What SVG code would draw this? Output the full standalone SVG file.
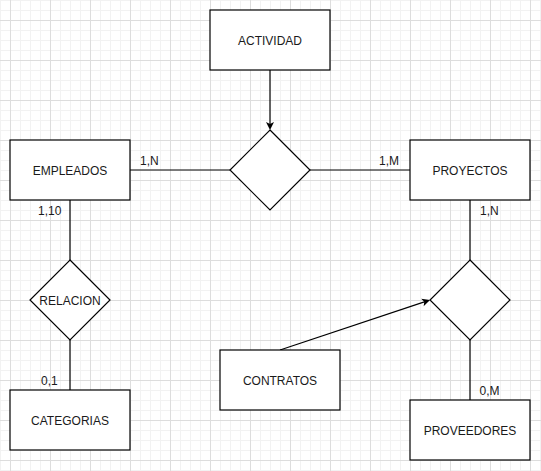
<svg xmlns="http://www.w3.org/2000/svg" width="541" height="471" viewBox="0 0 541 471">
<style>
.box{fill:#ffffff;stroke:#000000;stroke-width:1.2}
.edge{fill:none;stroke:#000000;stroke-width:1.2}
.t{font-family:"Liberation Sans",Arial,sans-serif;font-size:12px;fill:#1a1a1a;text-anchor:middle}
.l{font-family:"Liberation Sans",Arial,sans-serif;font-size:12px;fill:#1a1a1a}
</style>
<defs>
<pattern id="grid" patternUnits="userSpaceOnUse" x="10" y="20" width="40" height="40">
<rect x="0" y="0" width="40" height="40" fill="#ffffff"/>
<rect x="10" y="0" width="1" height="40" fill="#f2f2f2"/>
<rect x="20" y="0" width="1" height="40" fill="#f2f2f2"/>
<rect x="30" y="0" width="1" height="40" fill="#f2f2f2"/>
<rect x="0" y="10" width="40" height="1" fill="#f2f2f2"/>
<rect x="0" y="20" width="40" height="1" fill="#f2f2f2"/>
<rect x="0" y="30" width="40" height="1" fill="#f2f2f2"/>
<rect x="0" y="0" width="1" height="40" fill="#dddddd"/>
<rect x="0" y="0" width="40" height="1" fill="#dddddd"/>
</pattern>
<marker id="arr" markerUnits="userSpaceOnUse" viewBox="-7 -5 10 10" refX="0" refY="0" markerWidth="10" markerHeight="10" orient="auto">
<path d="M2,0 L-6,-4 L-4,0 L-6,4 Z" fill="#000000"/>
</marker>
</defs>
<rect x="0" y="0" width="541" height="471" fill="url(#grid)"/>

<g id="connectors">
<line class="edge" x1="270" y1="70" x2="270" y2="128" marker-end="url(#arr)"/>
<line class="edge" x1="130" y1="170" x2="230" y2="170"/>
<line class="edge" x1="310" y1="170" x2="410" y2="170"/>
<line class="edge" x1="470" y1="200" x2="470" y2="260"/>
<line class="edge" x1="470" y1="340" x2="470" y2="400"/>
<line class="edge" x1="70" y1="200" x2="70" y2="260"/>
<line class="edge" x1="70" y1="340" x2="70" y2="390"/>
<line class="edge" x1="280" y1="350" x2="428.1" y2="300.6" marker-end="url(#arr)"/>
<text class="l" x="140" y="165">1,N</text>
<text class="l" x="379" y="165">1,M</text>
<text class="l" x="480" y="215">1,N</text>
<text class="l" x="38" y="215">1,10</text>
<text class="l" x="41" y="385">0,1</text>
<text class="l" x="479.5" y="395">0,M</text>
</g>

<g id="actividad">
<rect class="box" x="210" y="10" width="120" height="60"/>
<text class="t" x="270" y="45">ACTIVIDAD</text>
</g>
<g id="rel-central">
<polygon class="box" points="270,130 310,170 270,210 230,170"/>
</g>
<g id="empleados">
<rect class="box" x="10" y="140" width="120" height="60"/>
<text class="t" x="70" y="175">EMPLEADOS</text>
</g>
<g id="proyectos">
<rect class="box" x="410" y="140" width="120" height="60"/>
<text class="t" x="470" y="175">PROYECTOS</text>
</g>
<g id="relacion">
<polygon class="box" points="70,260 110,300 70,340 30,300"/>
<text class="t" x="70" y="305">RELACION</text>
</g>
<g id="rel-proveedores">
<polygon class="box" points="470,260 510,300 470,340 430,300"/>
</g>
<g id="contratos">
<rect class="box" x="220" y="350" width="120" height="60"/>
<text class="t" x="280" y="385">CONTRATOS</text>
</g>
<g id="categorias">
<rect class="box" x="10" y="390" width="120" height="60"/>
<text class="t" x="70" y="425">CATEGORIAS</text>
</g>
<g id="proveedores">
<rect class="box" x="410" y="400" width="120" height="60"/>
<text class="t" x="470" y="435">PROVEEDORES</text>
</g>
</svg>
